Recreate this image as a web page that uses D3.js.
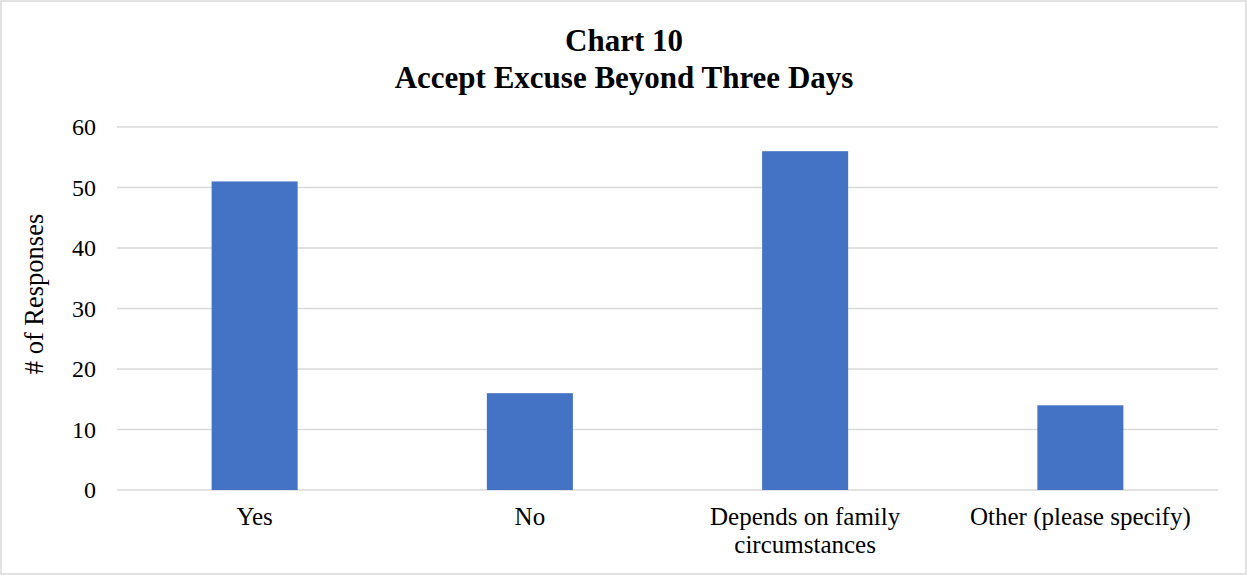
<!DOCTYPE html>
<html>
<head>
<meta charset="utf-8">
<script src="https://cdn.jsdelivr.net/npm/d3@7"></script>
<style>
  html, body { margin: 0; padding: 0; background: #fff; }
  svg { display: block; }
  text { font-family: "Liberation Serif", "Times New Roman", serif; fill: #000; }
</style>
</head>
<body>
<svg id="chart" width="1247" height="575"></svg>
<script>
// Survey responses: whether an excuse beyond three days is accepted
const categories = [["Yes"], ["No"], ["Depends on family", "circumstances"], ["Other (please specify)"]];
const responses = [51, 16, 56, 14];
const yTicks = [0, 10, 20, 30, 40, 50, 60];
const titleLines = ["Chart 10", "Accept Excuse Beyond Three Days"];
const yAxisTitle = "# of Responses";

const W = 1247, H = 575;
const margin = { left: 117, right: 29, top: 127, bottom: 85 };
const svg = d3.select("#chart");

// chart frame
svg.append("rect")
  .attr("x", 1).attr("y", 1)
  .attr("width", W - 2).attr("height", H - 2)
  .attr("fill", "#fff").attr("stroke", "#d9d9d9").attr("stroke-width", 1.5);

const x = d3.scaleBand()
  .domain(categories.map((c, i) => i))
  .range([margin.left, W - margin.right])
  .paddingInner(0.6875).paddingOuter(0.34375);

const y = d3.scaleLinear()
  .domain([0, 60])
  .range([H - margin.bottom, margin.top]);

// horizontal gridlines
svg.append("g")
  .selectAll("line")
  .data(yTicks)
  .join("line")
  .attr("x1", margin.left).attr("x2", W - margin.right)
  .attr("y1", d => y(d)).attr("y2", d => y(d))
  .attr("stroke", "#d9d9d9").attr("stroke-width", 1.5);

// y axis labels
const yAxis = d3.axisLeft(y).tickValues(yTicks).tickSize(0).tickPadding(21);
svg.append("g")
  .attr("transform", `translate(${margin.left},0)`)
  .call(yAxis)
  .call(g => g.select(".domain").remove())
  .call(g => g.selectAll("text")
    .style("font-family", '"Liberation Serif", "Times New Roman", serif')
    .style("font-size", "24px").attr("fill", "#000"));

// bars
svg.append("g")
  .selectAll("rect")
  .data(responses)
  .join("rect")
  .attr("x", (d, i) => x(i))
  .attr("width", x.bandwidth())
  .attr("y", d => y(d))
  .attr("height", d => y(0) - y(d))
  .attr("fill", "#4472c4");

// category labels
const xl = svg.append("g");
categories.forEach((lines, i) => {
  const cx = x(i) + x.bandwidth() / 2;
  const t = xl.append("text")
    .attr("text-anchor", "middle")
    .attr("font-size", "25px")
    .attr("x", cx)
    .attr("y", 525);
  lines.forEach((ln, j) => {
    t.append("tspan")
      .attr("x", cx)
      .attr("dy", j === 0 ? 0 : 28)
      .text(ln);
  });
});

// y axis title
svg.append("text")
  .attr("transform", "translate(43,294) rotate(-90)")
  .attr("text-anchor", "middle")
  .attr("font-size", "26.5px")
  .text(yAxisTitle);

// chart title
titleLines.forEach((ln, i) => {
  svg.append("text")
    .attr("x", 624)
    .attr("y", 51 + i * 37)
    .attr("text-anchor", "middle")
    .attr("font-size", "31px")
    .attr("font-weight", "bold")
    .text(ln);
});
</script>
</body>
</html>
